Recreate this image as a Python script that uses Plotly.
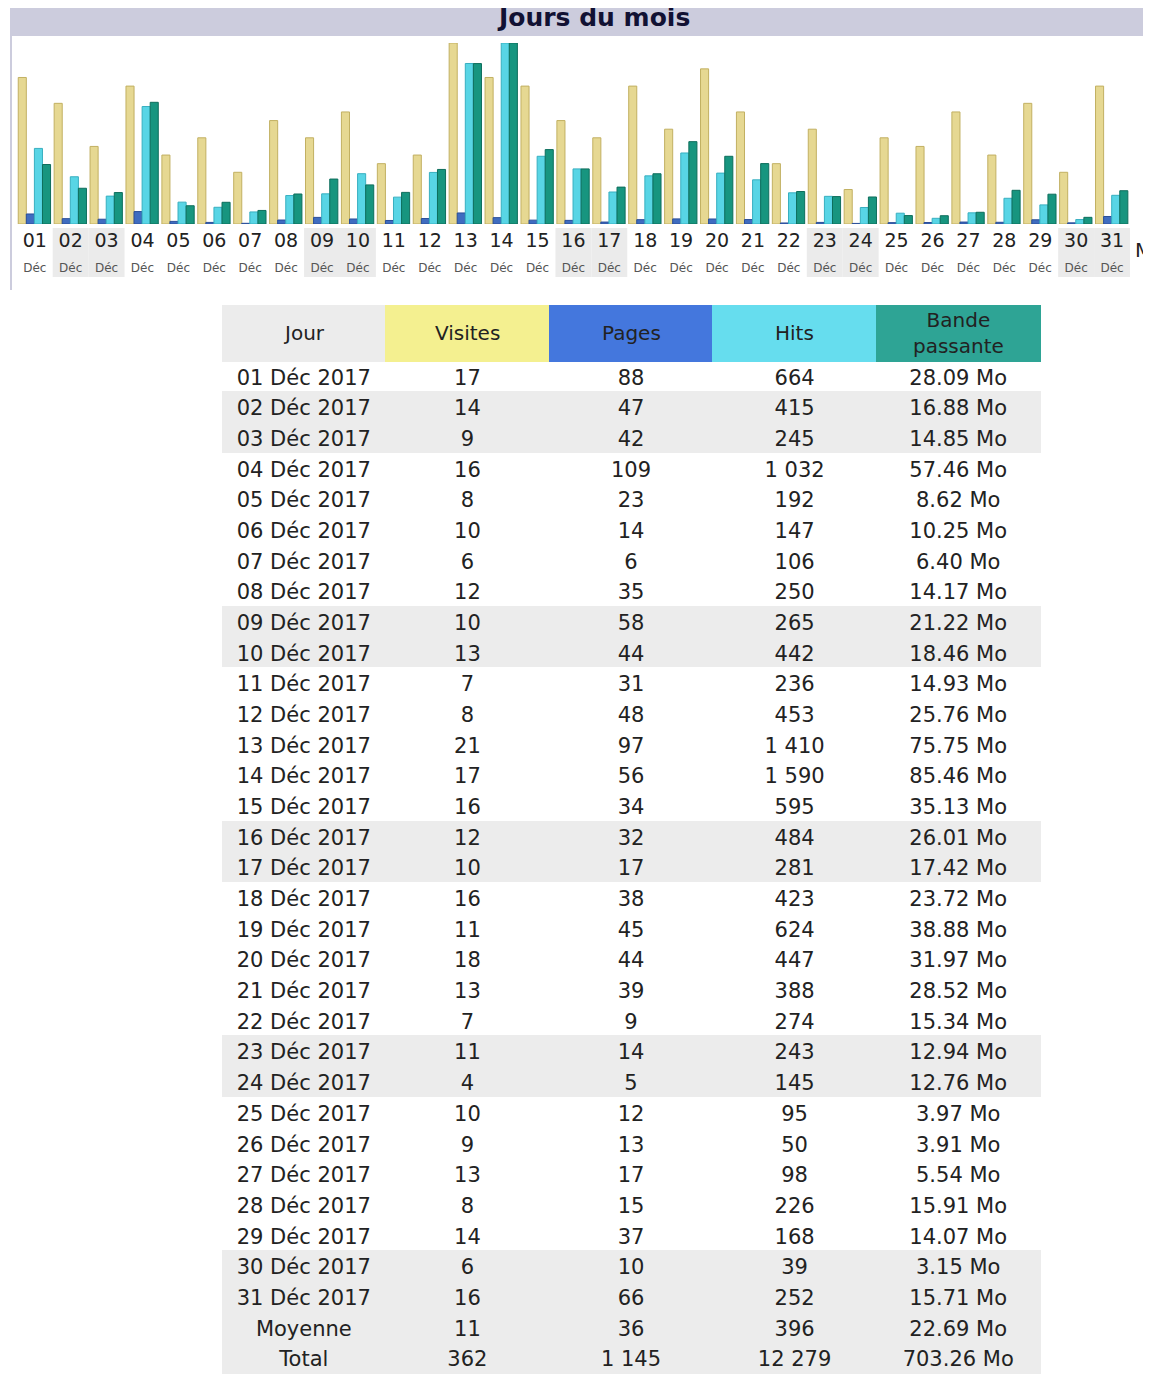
import plotly.graph_objects as go

OFF = 8  # default page margin of the html body
W, H = 1151 - OFF, 1378 - OFF

days = ["01", "02", "03", "04", "05", "06", "07", "08", "09", "10", "11", "12", "13", "14", "15", "16",
        "17", "18", "19", "20", "21", "22", "23", "24", "25", "26", "27", "28", "29", "30", "31"]
month_label = "Déc"
year_label = "2017"
weekend_days = ["02", "03", "09", "10", "16", "17", "23", "24", "30", "31"]

visits = [17, 14, 9, 16, 8, 10, 6, 12, 10, 13, 7, 8, 21, 17, 16, 12, 10, 16, 11, 18, 13, 7, 11, 4, 10, 9, 13, 8, 14, 6, 16]
pages = [88, 47, 42, 109, 23, 14, 6, 35, 58, 44, 31, 48, 97, 56, 34, 32, 17, 38, 45, 44, 39, 9, 14, 5, 12, 13, 17, 15, 37, 10, 66]
hits = [664, 415, 245, 1032, 192, 147, 106, 250, 265, 442, 236, 453, 1410, 1590, 595, 484, 281, 423, 624, 447, 388, 274,
        243, 145, 95, 50, 98, 226, 168, 39, 252]
bandwidth = [28.09, 16.88, 14.85, 57.46, 8.62, 10.25, 6.40, 14.17, 21.22, 18.46, 14.93, 25.76, 75.75, 85.46, 35.13, 26.01,
             17.42, 23.72, 38.88, 31.97, 28.52, 15.34, 12.94, 12.76, 3.97, 3.91, 5.54, 15.91, 14.07, 3.15, 15.71]

summary_labels = ["Moyenne", "Total"]
summary_visits = [11, 362]
summary_pages = [36, 1145]
summary_hits = [396, 12279]
summary_bandwidth = [22.69, 703.26]

headers = ["Jour", "Visites", "Pages", "Hits", "Bande<br>passante"]
title_text = "Jours du mois"
avg_col_label = "M"

# colours
C_VIS, C_PAG, C_HIT, C_BW = "#F4F090", "#4477DD", "#66DDEE", "#2EA495"
BAR_VIS, BAR_PAG, BAR_HIT, BAR_BW = "#E6D892", "#3F6CC0", "#58D5E5", "#17957F"
ROW_GREY = "#ECECEC"
FONT = "DejaVu Sans"


def px(x):
    return (x - OFF) / W


def py(y):
    return 1 - (y - OFF) / H


def fmt_int(v):
    return f"{v:,}".replace(",", " ")


def fmt_mo(v):
    return f"{v:.2f} Mo"


fig = go.Figure()

# ---- bar chart (AWStats style: each measure on its own scale) ----
bw = 0.225
offsets = [-0.46, -0.235, -0.01, 0.215]
series = [
    (visits, "y", BAR_VIS, "#C2B062", "Visites"),
    (pages, "y2", BAR_PAG, "#2A4E99", "Pages"),
    (hits, "y2", BAR_HIT, "#38AFC0", "Hits"),
    (bandwidth, "y3", BAR_BW, "#0E6E5C", "Bande passante"),
]
for (vals, ya, col, lcol, name), off in zip(series, offsets):
    fig.add_trace(go.Bar(x=days, y=vals, yaxis=ya, xaxis="x", width=bw, offset=off,
                         marker=dict(color=col, line=dict(color=lcol, width=1)),
                         name=name, showlegend=False, hoverinfo="skip"))

ticktext = [f"{d}<br><span style='font-size:12px;color:#555'>{month_label}</span>" for d in days]

chart_top, chart_base = 43, 224
fig.update_layout(
    width=W, height=H, margin=dict(l=0, r=0, t=0, b=0),
    paper_bgcolor="white", plot_bgcolor="rgba(0,0,0,0)",
    barmode="overlay", showlegend=False,
    font=dict(family=FONT, color="#222"),
    xaxis=dict(domain=[px(16.8), px(1130)], type="category", range=[-0.5, 30.5],
               tickvals=days, ticktext=ticktext, showgrid=False, zeroline=False,
               showline=False, ticks="", tickfont=dict(size=19, color="#222", family=FONT),
               ticklabelstandoff=3, fixedrange=True),
    yaxis=dict(domain=[py(chart_base), py(chart_top)], range=[0, max(visits)], visible=False, fixedrange=True),
    yaxis2=dict(overlaying="y", range=[0, max(hits)], visible=False, fixedrange=True),
    yaxis3=dict(overlaying="y", range=[0, max(bandwidth)], visible=False, fixedrange=True),
)

shapes = []
# title band
shapes.append(dict(type="rect", xref="paper", yref="paper", x0=px(10), x1=1, y0=py(36), y1=py(8),
                   fillcolor="#CCCCDD", line=dict(width=0), layer="below"))
# left frame line
shapes.append(dict(type="line", xref="paper", yref="paper", x0=px(11), x1=px(11), y0=py(290), y1=py(36),
                   line=dict(color="#CCCCDD", width=2), layer="below"))
# weekend label shading
for d in weekend_days:
    i = days.index(d)
    shapes.append(dict(type="rect", xref="x", yref="paper", x0=i - 0.5, x1=i + 0.5, y0=py(277), y1=py(228),
                       fillcolor="#EBEBEB", line=dict(width=0), layer="below"))
fig.update_layout(shapes=shapes)

fig.add_annotation(text=f"<b>{title_text}</b>", xref="paper", yref="paper", x=px(593), y=py(18),
                   xanchor="center", yanchor="middle", showarrow=False,
                   font=dict(size=25, color="#111133", family=FONT))
fig.add_annotation(text=avg_col_label, xref="paper", yref="paper", x=px(1133), y=py(250),
                   xanchor="left", yanchor="middle", showarrow=False,
                   font=dict(size=20, color="#222", family=FONT))

# ---- table ----
col_day = [f"{d} {month_label} {year_label}" for d in days] + summary_labels
col_vis = [fmt_int(v) for v in visits + summary_visits]
col_pag = [fmt_int(v) for v in pages + summary_pages]
col_hit = [fmt_int(v) for v in hits + summary_hits]
col_bw = [fmt_mo(v) for v in bandwidth + summary_bandwidth]

row_fill = [ROW_GREY if d in weekend_days else "white" for d in days] + [ROW_GREY, ROW_GREY]
header_fill = [ROW_GREY, C_VIS, C_PAG, C_HIT, C_BW]

tbl_x0, tbl_x1, tbl_top, head_h = 222, 1040, 305, 56
fig.add_trace(go.Table(
    domain=dict(x=[px(tbl_x0), px(tbl_x1)], y=[0, py(tbl_top)]),
    columnwidth=[1, 1, 1, 1, 1],
    header=dict(values=[""] * len(headers), fill_color=header_fill,
                line=dict(color=header_fill, width=1), align="center", height=head_h,
                font=dict(size=20, color="#222", family=FONT)),
    cells=dict(values=[col_day, col_vis, col_pag, col_hit, col_bw],
               fill_color=[row_fill] * 5, line=dict(color=[row_fill] * 5, width=1),
               align="center", height=30.67, font=dict(size=21, color="#222", family=FONT)),
))

# header labels (vertically centred, as in the original)
col_w = (tbl_x1 - tbl_x0) / len(headers)
for k, h in enumerate(headers):
    fig.add_annotation(text=h, xref="paper", yref="paper",
                       x=px(tbl_x0 + col_w * (k + 0.5)), y=py(tbl_top + head_h / 2),
                       xanchor="center", yanchor="middle", showarrow=False,
                       font=dict(size=20, color="#222", family=FONT))

fig.write_html("out.html")
